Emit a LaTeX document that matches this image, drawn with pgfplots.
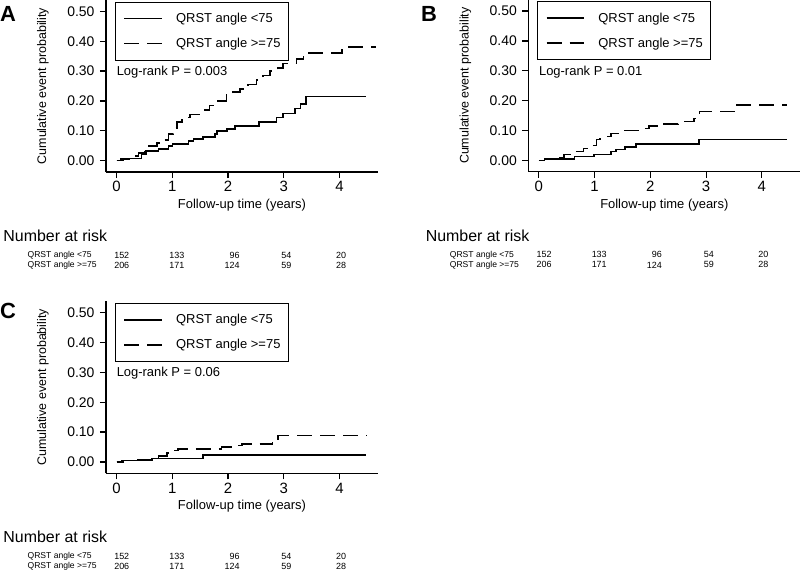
\documentclass[border=0pt]{standalone}
\usepackage{fontspec}
\setmainfont{Liberation Sans}
\usepackage{pgfplots}
\pgfplotsset{compat=1.18}
\newcommand{\fs}[1]{\fontsize{#1}{#1}\selectfont}
\newcommand{\risktable}{%
  \node[anchor=west, font=\fs{16}] at (axis cs:-2.093,-0.251) {Number at risk};
  \node[anchor=west, font=\fs{8.6}] at (axis cs:-1.66,-0.3164) {QRST angle <75};
  \node[anchor=west, font=\fs{8.6}] at (axis cs:-1.66,-0.350) {QRST angle >=75};
  \node[anchor=east, font=\fs{9}] at (axis cs:0.29,-0.3164) {152};
  \node[anchor=east, font=\fs{9}] at (axis cs:1.28,-0.3164) {133};
  \node[anchor=east, font=\fs{9}] at (axis cs:2.27,-0.3164) {96};
  \node[anchor=east, font=\fs{9}] at (axis cs:3.20,-0.3164) {54};
  \node[anchor=east, font=\fs{9}] at (axis cs:4.18,-0.3164) {20};
  \node[anchor=east, font=\fs{9}] at (axis cs:0.29,-0.350) {206};
  \node[anchor=east, font=\fs{9}] at (axis cs:1.28,-0.350) {171};
  \node[anchor=east, font=\fs{9}] at (axis cs:2.27,-0.350) {124};
  \node[anchor=east, font=\fs{9}] at (axis cs:3.20,-0.350) {59};
  \node[anchor=east, font=\fs{9}] at (axis cs:4.18,-0.350) {28};
}
\pgfplotsset{
  km/.style={
    scale only axis, width=272bp, height=172bp,
    xmin=-0.19, xmax=4.69, ymin=-0.038, ymax=0.538,
    axis x line*=bottom, axis y line*=left,
    axis line style={line width=1.2bp, -},
    tick align=outside, major tick length=6bp,
    tick style={line width=1.2bp, black},
    xtick={0,1,2,3,4}, xticklabels={0,1,2,3,4},
    ytick={0,0.1,0.2,0.3,0.4,0.5},
    yticklabels={0.00,0.10,0.20,0.30,0.40,0.50},
    /pgf/number format/assume math mode=true,
    xticklabel style={font=\fs{15}},
    yticklabel style={font=\fs{14}, xshift=-2bp},
    xlabel={Follow-up time (years)},
    xlabel style={font=\fs{13}, at={(axis description cs:0.5,0)}, anchor=center, yshift=-33bp},
    ylabel={Cumulative event probability},
    ylabel style={font=\fs{12.5}, at={(axis description cs:-0.2316,0.5)}, anchor=center},
    clip=false,
    legend cell align=left,
    legend image code/.code={\draw[##1] (0bp,0bp) -- (37.6bp,0bp);},
    legend style={
      draw=black, line width=1bp,
      at={(rel axis cs:0.033,0.991)}, anchor=north west,
      inner xsep=8bp, inner ysep=4bp, row sep=0bp,
      nodes={inner sep=0bp, minimum height=25bp, font=\fs{13}},
      /tikz/every odd column/.append style={column sep=13.4bp},
    },
  },
  sol/.style={black, line width=1.6bp, const plot},
  das/.style={black, line width=1.6bp, const plot, dash pattern=on 15bp off 8bp},
}
\begin{document}
\begin{tikzpicture}
\useasboundingbox (0bp,0bp) rectangle (802bp,-572bp);
% Panel A
\begin{axis}[km, at={(106bp,-172bp)}, anchor=south west]
\addplot[sol] coordinates {(0,0) (0.08,0.007) (0.45,0.02) (0.53,0.033) (0.75,0.04) (0.93,0.05) (1.0,0.055) (1.29,0.065) (1.38,0.072) (1.55,0.08) (1.77,0.09) (1.8,0.1) (1.98,0.107) (2.12,0.117) (2.56,0.13) (2.87,0.145) (2.99,0.158) (3.2,0.175) (3.3,0.19) (3.4,0.215) (4.48,0.215)};
\addlegendentry{QRST angle <75}
\addplot[das] coordinates {(0,0) (0.12,0.005) (0.27,0.015) (0.39,0.025) (0.51,0.04) (0.57,0.05) (0.72,0.06) (0.84,0.07) (0.93,0.09) (1.02,0.11) (1.08,0.13) (1.17,0.145) (1.32,0.155) (1.49,0.17) (1.67,0.185) (1.82,0.2) (1.97,0.22) (2.09,0.23) (2.21,0.24) (2.36,0.255) (2.51,0.27) (2.63,0.285) (2.75,0.3) (2.9,0.31) (2.99,0.325) (3.23,0.34) (3.35,0.36) (4.04,0.38) (4.65,0.38)};
\addlegendentry{QRST angle >=75}
\node[anchor=west, font=\fs{13}] at (axis cs:-0.06,0.297) {Log-rank P = 0.003};
\risktable
\end{axis}
% Panel B
\begin{axis}[km, at={(528.3bp,-171.7bp)}, anchor=south west]
\addplot[sol] coordinates {(0,0) (0.1,0.005) (0.64,0.013) (0.99,0.02) (1.29,0.03) (1.38,0.037) (1.55,0.045) (1.74,0.055) (2.87,0.07) (4.46,0.07)};
\addlegendentry{QRST angle <75}
\addplot[das] coordinates {(0,0) (0.1,0.005) (0.31,0.01) (0.45,0.02) (0.58,0.03) (0.8,0.04) (0.95,0.05) (1.03,0.07) (1.1,0.08) (1.29,0.09) (1.48,0.1) (1.8,0.107) (1.98,0.115) (2.24,0.122) (2.5,0.13) (2.78,0.14) (2.88,0.163) (3.53,0.186) (4.46,0.186)};
\addlegendentry{QRST angle >=75}
\node[anchor=west, font=\fs{13}] at (axis cs:-0.06,0.297) {Log-rank P = 0.01};
\risktable
\end{axis}
% Panel C
\begin{axis}[km, at={(106bp,-473.3bp)}, anchor=south west]
\addplot[sol] coordinates {(0,0) (0.12,0.005) (0.63,0.012) (1.55,0.023) (4.47,0.023)};
\addlegendentry{QRST angle <75}
\addplot[das] coordinates {(0,0) (0.09,0.005) (0.36,0.008) (0.66,0.015) (0.75,0.02) (0.9,0.03) (0.99,0.038) (1.1,0.043) (1.88,0.05) (2.09,0.055) (2.25,0.06) (2.8,0.072) (2.9,0.088) (4.5,0.088)};
\addlegendentry{QRST angle >=75}
\node[anchor=west, font=\fs{13}] at (axis cs:-0.06,0.297) {Log-rank P = 0.06};
\risktable
\end{axis}
\node[font=\bfseries\fs{22}] at (8bp,-14bp) {A};
\node[font=\bfseries\fs{22}] at (429bp,-14bp) {B};
\node[font=\bfseries\fs{22}] at (8bp,-311bp) {C};
\end{tikzpicture}
\end{document}
